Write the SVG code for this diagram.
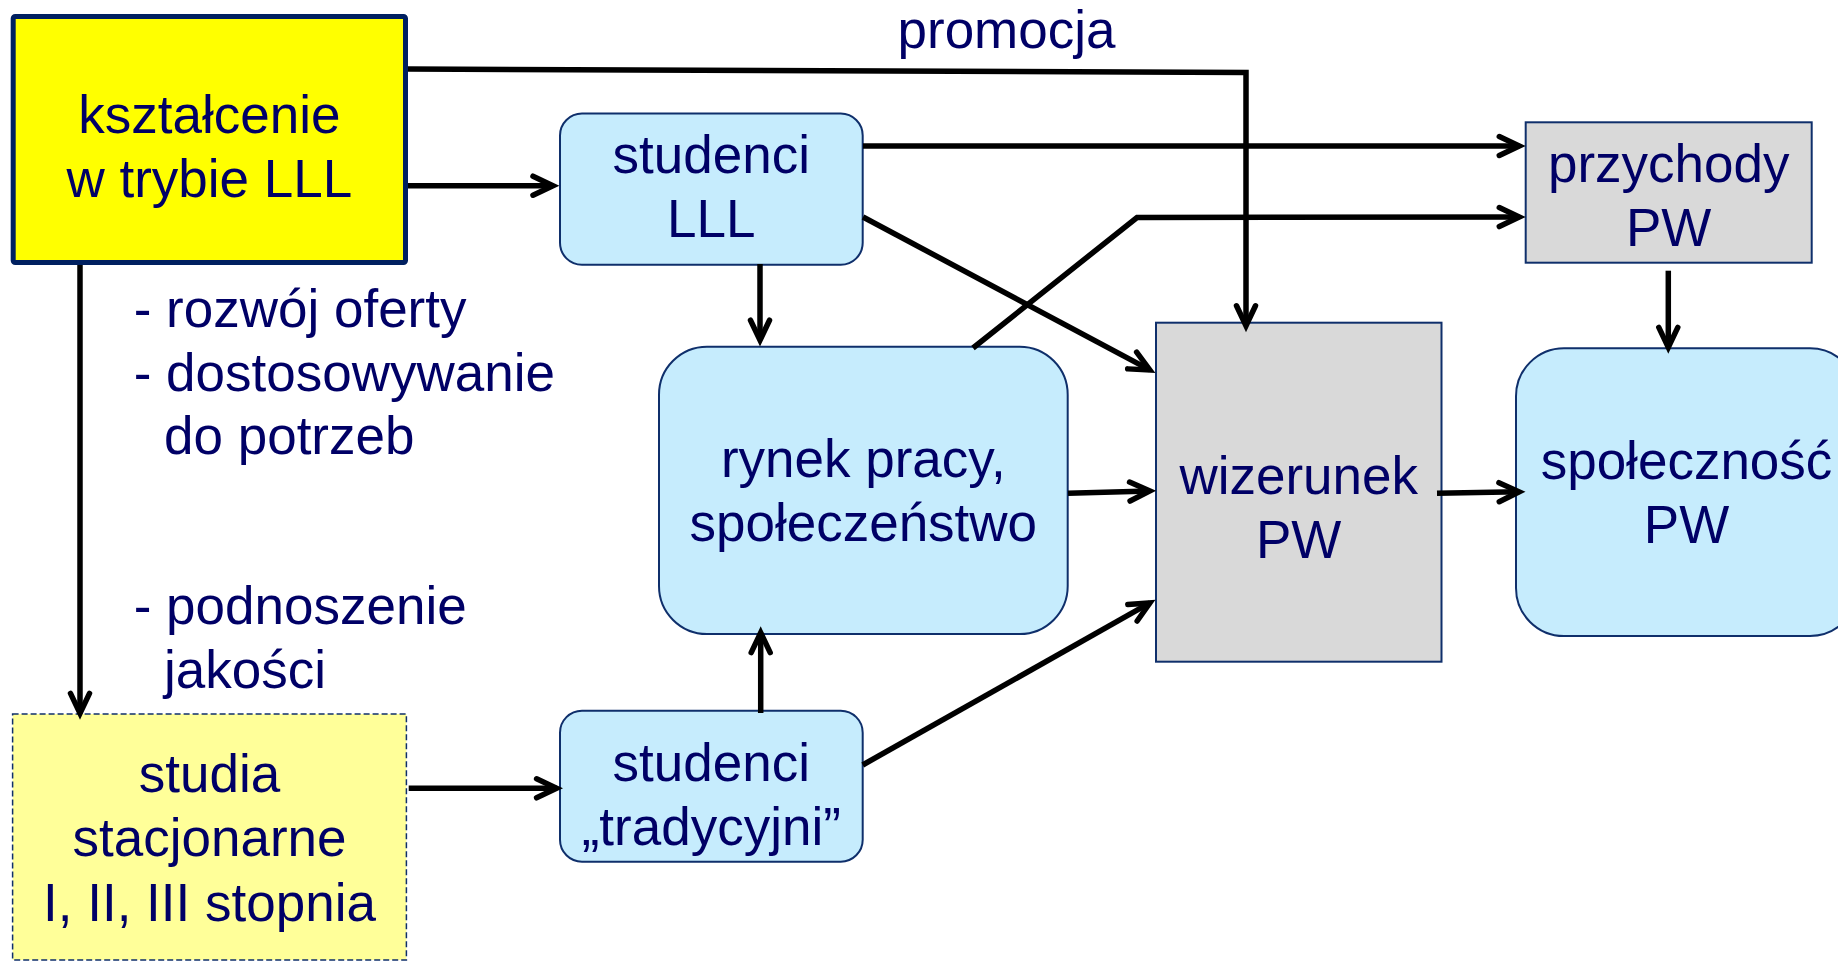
<svg xmlns="http://www.w3.org/2000/svg" width="1838" height="961" viewBox="0 0 1838 961">
<style>
.t{font-family:"Liberation Sans",Arial,sans-serif;font-size:53px;fill:#000066}
.m{text-anchor:middle}
.blue{fill:#C6ECFD;stroke:#0F2F6B;stroke-width:2}
.gray{fill:#D9D9D9;stroke:#0F2F6B;stroke-width:2}
.c{fill:none;stroke:#000;stroke-width:5.5;stroke-linejoin:miter}
</style>
<defs>
<marker id="ah" markerUnits="userSpaceOnUse" viewBox="-30 -15 40 30" markerWidth="40" markerHeight="30" refX="0" refY="0" orient="auto" overflow="visible">
<path d="M-20,-9.5 L0,0 L-20,9.5" fill="none" stroke="#000" stroke-width="5.5" stroke-linecap="round" stroke-linejoin="miter" stroke-miterlimit="10"/>
</marker>
</defs>
<rect width="1838" height="961" fill="#fff"/>

<g id="n-lll">
<rect x="13.2" y="16.5" width="392.3" height="246" rx="2" fill="#FFFF00" stroke="#002060" stroke-width="5"/>
<text class="t m" x="209.3" y="132.7">kształcenie</text>
<text class="t m" x="209.3" y="196.7">w trybie LLL</text>
</g>

<g id="n-studia">
<rect x="12.6" y="714" width="393.8" height="246" fill="#FFFF99" stroke="#0F2F6B" stroke-width="1.5" stroke-dasharray="6 3"/>
<text class="t m" x="209.5" y="791.7">studia</text>
<text class="t m" x="209.5" y="856">stacjonarne</text>
<text class="t m" x="209.5" y="920.7">I, II, III stopnia</text>
</g>

<g id="n-stud-lll">
<rect class="blue" x="560" y="113.5" width="302.7" height="151.3" rx="22"/>
<text class="t m" x="711.3" y="172.7">studenci</text>
<text class="t m" x="711.3" y="236.7">LLL</text>
</g>

<g id="n-rynek">
<rect class="blue" x="659" y="346.7" width="408.7" height="287.3" rx="48"/>
<text class="t m" x="863.3" y="476.7">rynek pracy,</text>
<text class="t m" x="863.3" y="540.7">społeczeństwo</text>
</g>

<g id="n-stud-trad">
<rect class="blue" x="560" y="710.7" width="302.7" height="151" rx="22"/>
<text class="t m" x="711.3" y="780.7">studenci</text>
<text class="t m" x="711.3" y="845">„tradycyjni”</text>
</g>

<g id="n-wizerunek">
<rect class="gray" x="1156" y="322.7" width="285.5" height="339"/>
<text class="t m" x="1298.7" y="494">wizerunek</text>
<text class="t m" x="1298.7" y="558.3">PW</text>
</g>

<g id="n-przychody">
<rect class="gray" x="1525.7" y="122.3" width="286" height="140.4"/>
<text class="t m" x="1668.7" y="181.7">przychody</text>
<text class="t m" x="1668.7" y="245.7">PW</text>
</g>

<g id="n-spolecznosc">
<rect class="blue" x="1516" y="348.3" width="342" height="287.7" rx="48"/>
<text class="t m" x="1686.5" y="479">społeczność</text>
<text class="t m" x="1686.5" y="543.3">PW</text>
</g>

<g id="labels">
<text class="t m" x="1006.5" y="48.3">promocja</text>
<text class="t" x="133.7" y="327.3">- rozwój oferty</text>
<text class="t" x="133.7" y="390.7">- dostosowywanie</text>
<text class="t" x="164" y="454.3">do potrzeb</text>
<text class="t" x="133.7" y="624">- podnoszenie</text>
<text class="t" x="164" y="687.7">jakości</text>
</g>

<g id="connectors">
<path class="c" d="M408,69 L1246,72.5 L1246,325.8" marker-end="url(#ah)"/>
<path class="c" d="M408,185.7 L553,185.7" marker-end="url(#ah)"/>
<path class="c" d="M80,265 L80,713.4" marker-end="url(#ah)"/>
<path class="c" d="M863,146 L1519.3,146" marker-end="url(#ah)"/>
<path class="c" d="M863,217 L1149.8,369.9" marker-end="url(#ah)"/>
<path class="c" d="M973,348 L1137,217.5 L1519.3,217" marker-end="url(#ah)"/>
<path class="c" d="M760,264 L760,340.2" marker-end="url(#ah)"/>
<path class="c" d="M1068,493.3 L1149.8,491" marker-end="url(#ah)"/>
<path class="c" d="M760.7,713 L760.7,632.6" marker-end="url(#ah)"/>
<path class="c" d="M408.7,788.3 L556.6,788.3" marker-end="url(#ah)"/>
<path class="c" d="M862.7,765 L1149.9,602.9" marker-end="url(#ah)"/>
<path class="c" d="M1437,493.3 L1519.1,491.8" marker-end="url(#ah)"/>
<path class="c" d="M1668.3,270.7 L1668.3,347.4" marker-end="url(#ah)"/>
</g>
</svg>
